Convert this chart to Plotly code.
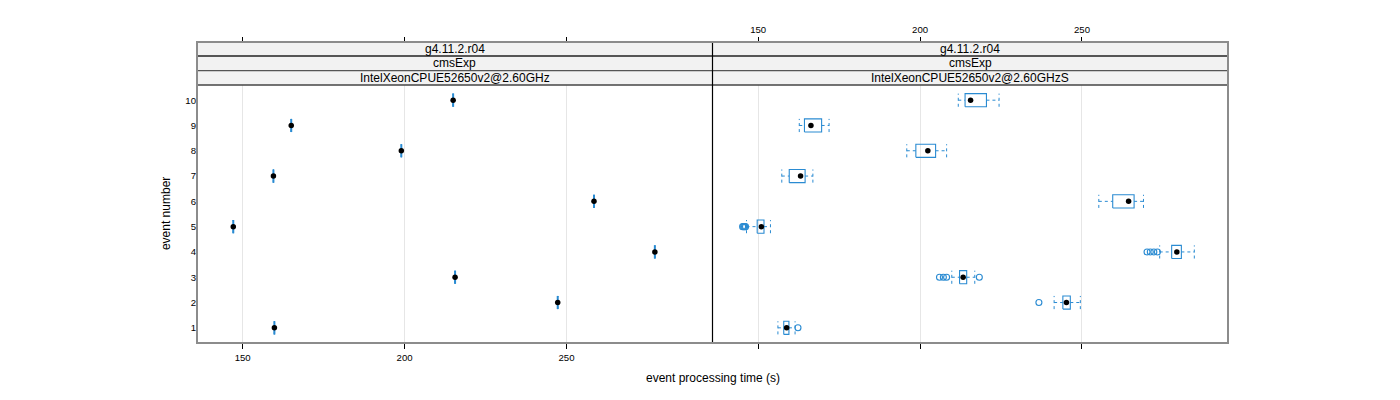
import plotly.graph_objects as go

# ---------------- data ----------------
events = list(range(1, 11))
x_ticks = [150, 200, 250]
y_ticks = list(range(1, 11))
strip_top = "g4.11.2.r04"
strip_mid = "cmsExp"
machines = ["IntelXeonCPUE52650v2@2.60GHz", "IntelXeonCPUE52650v2@2.60GHzS"]

# left panel: a single run per event
left_time = [159.8, 247.3, 215.6, 277.3, 147.1, 258.5, 159.5, 199.0, 165.0, 215.0]

# right panel: box statistics per event
right_lower = [156.1, 241.4, 209.8, 274.0, 146.4, 255.2, 157.3, 195.9, 162.7, 211.8]
right_q1 = [157.9, 244.1, 212.2, 277.7, 149.7, 259.5, 159.6, 198.7, 164.3, 213.9]
right_median = [158.8, 245.2, 213.3, 279.3, 151.0, 264.4, 163.1, 202.4, 166.3, 215.6]
right_q3 = [159.5, 246.4, 214.4, 280.7, 151.8, 266.1, 164.5, 204.8, 169.6, 220.5]
right_upper = [161.4, 249.5, 216.9, 284.7, 153.8, 269.0, 166.9, 208.2, 171.9, 224.4]
outlier_event = [1, 2, 3, 3, 3, 3, 4, 4, 4, 4, 5, 5, 5, 5]
outlier_time = [162.3, 236.7, 206.0, 207.2, 208.2, 218.3,
                270.1, 271.1, 272.2, 273.3, 145.2, 145.5, 145.8, 146.1]

# ---------------- style ----------------
BLUE = "#2a8bd2"
FONT = "Liberation Sans, Arial, sans-serif"
XR = [135.9, 295.1]
YR = [0.4, 10.6]
H = 0.26

fig = go.Figure()


def add_bw(ev, lo, q1, med, q3, hi, xa, ya, bw):
    bx, by, wx, wy = [], [], [], []
    for e, a, b, m, c, d in zip(ev, lo, q1, med, q3, hi):
        bx += [b, c, c, b, b, None]
        by += [e - H, e - H, e + H, e + H, e - H, None]
        wx += [a, b, None, c, d, None, a, a, None, d, d, None]
        wy += [e, e, None, e, e, None, e - H, e + H, None, e - H, e + H, None]
    fig.add_trace(go.Scatter(x=wx, y=wy, mode="lines", xaxis=xa, yaxis=ya,
                             line=dict(color=BLUE, width=1, dash="3px,3px"),
                             hoverinfo="skip", showlegend=False))
    fig.add_trace(go.Scatter(x=bx, y=by, mode="lines", xaxis=xa, yaxis=ya,
                             line=dict(color=BLUE, width=bw),
                             hoverinfo="skip", showlegend=False))
    fig.add_trace(go.Scatter(x=med, y=ev, mode="markers", xaxis=xa, yaxis=ya,
                             marker=dict(color="black", size=5.5),
                             showlegend=False))


add_bw(events, left_time, left_time, left_time, left_time, left_time, "x", "y", 2)
add_bw(events, right_lower, right_q1, right_median, right_q3, right_upper, "x2", "y2", 1.1)
fig.add_trace(go.Scatter(x=outlier_time, y=outlier_event, mode="markers",
                         xaxis="x2", yaxis="y2",
                         marker=dict(symbol="circle-open", color=BLUE, size=6,
                                     line=dict(width=1.1)),
                         showlegend=False))
# anchors for top axes
fig.add_trace(go.Scatter(x=[200], y=[5], xaxis="x3", yaxis="y", mode="markers",
                         marker=dict(opacity=0), hoverinfo="skip", showlegend=False))
fig.add_trace(go.Scatter(x=[200], y=[5], xaxis="x4", yaxis="y2", mode="markers",
                         marker=dict(opacity=0), hoverinfo="skip", showlegend=False))

PT = (343 - 85) / 301.0
S2 = (343 - 70.7) / 301.0
S1 = (343 - 56) / 301.0

tickfont = dict(family=FONT, size=9.6, color="black")
xcommon = dict(range=XR, tickvals=x_ticks, ticks="outside", ticklen=5, tickcolor="black",
               tickwidth=1, zeroline=False, showline=False, tickfont=tickfont)

fig.update_layout(
    width=1384, height=384,
    margin=dict(l=189, r=164, t=34, b=49, autoexpand=False),
    paper_bgcolor="white", plot_bgcolor="white",
    font=dict(family=FONT, size=12, color="black"),
    showlegend=False,
    xaxis=dict(domain=[0, 0.5], anchor="y", showgrid=True, gridcolor="#e6e6e6",
               showticklabels=True, **xcommon),
    xaxis2=dict(domain=[0.5, 1], anchor="y2", showgrid=True, gridcolor="#e6e6e6",
                showticklabels=False, **xcommon),
    xaxis3=dict(domain=[0, 0.5], overlaying="x", anchor="free", position=1, side="top",
                showgrid=False, showticklabels=False, **xcommon),
    xaxis4=dict(domain=[0.5, 1], overlaying="x2", anchor="free", position=1, side="top",
                showgrid=False, showticklabels=True, **xcommon),
    yaxis=dict(domain=[0, PT], anchor="x", range=YR, tickvals=y_ticks, ticks="",
               showgrid=False, zeroline=False, showline=False, tickfont=tickfont),
    yaxis2=dict(domain=[0, PT], anchor="x2", range=YR, tickvals=y_ticks, ticks="",
                showgrid=False, zeroline=False, showline=False, showticklabels=False),
)

shapes = []
bands = [(S1, 1.0, strip_top), (S2, S1, strip_mid), (PT, S2, None)]
annotations = []
for pi, (x0, x1) in enumerate([(0, 0.5), (0.5, 1)]):
    for (y0, y1, txt) in bands:
        shapes.append(dict(type="rect", xref="paper", yref="paper", x0=x0, x1=x1,
                           y0=y0, y1=y1, fillcolor="#f2f2f2", line=dict(width=0),
                           layer="below"))
        label = txt if txt is not None else machines[pi]
        annotations.append(dict(xref="paper", yref="paper", x=(x0 + x1) / 2,
                                y=(y0 + y1) / 2, text=label, showarrow=False,
                                font=dict(family=FONT, size=12, color="black"),
                                xanchor="center", yanchor="middle"))
# strip separators
for yv, col in [(S1, "#222222"), (S2, "#555555"), (PT, "#444444")]:
    shapes.append(dict(type="line", xref="paper", yref="paper", x0=0, x1=1,
                       y0=yv, y1=yv, line=dict(color=col, width=1.3)))
# divider between panels
shapes.append(dict(type="line", xref="paper", yref="paper", x0=0.5, x1=0.5,
                   y0=0, y1=1, line=dict(color="black", width=1.2)))
# outer border
shapes.append(dict(type="rect", xref="paper", yref="paper", x0=0, x1=1, y0=0, y1=1,
                   line=dict(color="#8c8c8c", width=2)))

annotations.append(dict(xref="paper", yref="paper", x=0.5, y=-0.116,
                        text="event processing time (s)", showarrow=False,
                        font=dict(family=FONT, size=12, color="black"),
                        xanchor="center", yanchor="middle"))
annotations.append(dict(xref="paper", yref="paper", x=-0.03, y=PT / 2,
                        text="event number", showarrow=False, textangle=-90,
                        font=dict(family=FONT, size=12, color="black"),
                        xanchor="center", yanchor="middle"))
fig.update_layout(shapes=shapes, annotations=annotations)

fig.write_html("out.html")
